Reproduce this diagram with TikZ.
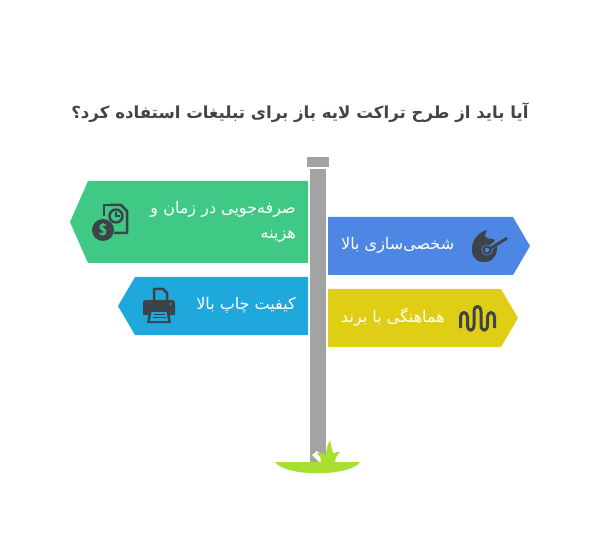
\documentclass[tikz,border=0pt]{standalone}
\usepackage{fontspec}
\newfontfamily\arabicfont[Script=Arabic]{DejaVu Sans}
\TeXXeTstate=1
\definecolor{signgreen}{HTML}{3FC985}
\definecolor{signcyan}{HTML}{1FA8DC}
\definecolor{signblue}{HTML}{4E86E4}
\definecolor{signyellow}{HTML}{E0CE15}
\definecolor{polegray}{HTML}{A3A3A3}
\definecolor{grassgreen}{HTML}{A8E02F}
\definecolor{icondark}{HTML}{3D4449}
\definecolor{titlegray}{HTML}{444444}
\tikzset{
  signlabel/.style={text=white,font=\arabicfont\fontsize{16}{25}\selectfont,align=right,inner sep=0pt},
  titlelabel/.style={text=titlegray,font=\arabicfont\bfseries\fontsize{16.6}{20}\selectfont,inner sep=0pt},
  iconline/.style={draw=icondark,line width=2.5pt,line join=round,fill=none}
}
\begin{document}
\begin{tikzpicture}[x=1pt,y=-1pt]
  \useasboundingbox (0,0) rectangle (600,540);

  % post and cap
  \fill[polegray] (310,169) rectangle (326,462);
  \fill[polegray] (307,157) rectangle (329,167);

  % grass
  \fill[grassgreen] (275,462) .. controls (285,477) and (350,477) .. (360,462) -- cycle;
  \fill[white] (312,455) -- (317,451) -- (324,456) -- (324,462) -- (319,462) -- cycle;
  \fill[grassgreen] (321,463) .. controls (321,458) and (320,455) .. (317,453)
    .. controls (320,452) and (323,453) .. (326,455)
    .. controls (326,449) and (328,444) .. (330,440)
    .. controls (331,445) and (332,449) .. (333,453)
    .. controls (335,452) and (338,452) .. (340,452)
    .. controls (337,455) and (335,458) .. (335,463) -- cycle;

  % signs
  \fill[signgreen] (308,181) -- (88,181) -- (70,222) -- (88,263) -- (308,263) -- cycle;
  \fill[signcyan] (308,277) -- (135,277) -- (118,306) -- (135,335) -- (308,335) -- cycle;
  \fill[signblue] (328,217) -- (513,217) -- (530,246) -- (513,275) -- (328,275) -- cycle;
  \fill[signyellow] (328,289) -- (501,289) -- (518,318) -- (501,347) -- (328,347) -- cycle;

  % texts
  \node[titlelabel] (title) at (300,113) {\beginR آیا باید از طرح تراکت لایه باز برای تبلیغات استفاده کرد؟\endR};
  \node[signlabel,anchor=east] (saving) at (296,222) {\beginR صرفه‌جویی در زمان و\endR\\\beginR هزینه\endR};
  \node[signlabel,anchor=east] (quality) at (296,305) {\beginR کیفیت چاپ بالا\endR};
  \node[signlabel,anchor=west] (custom) at (341,245) {\beginR شخصی‌سازی بالا\endR};
  \node[signlabel,anchor=west] (brand) at (341,317) {\beginR هماهنگی با برند\endR};

  % icon: document and money
  \draw[iconline] (110,205) -- (121,205) -- (127,211) -- (127,233) -- (114,233);
  \draw[iconline] (104,216) -- (104,205) -- (110,205);
  \draw[iconline] (116,216) circle[radius=6.5];
  \draw[icondark,line width=1.4pt] (116,212.5) -- (116,216) -- (119.5,216);
  \fill[icondark] (103,230) circle[radius=11];
  \node[text=signgreen,font=\sffamily\bfseries\fontsize{16}{16}\selectfont,inner sep=0pt] (dollar) at (103,230) {\$};

  % icon: printer
  \draw[iconline] (154,300) -- (154,289) -- (163,289) -- (167,293) -- (167,300);
  \fill[icondark] (146,300) -- (172,300) .. controls (174,300) and (175,301) .. (175,303)
    -- (175,315) -- (143,315) -- (143,303) .. controls (143,301) and (144,300) .. (146,300) -- cycle;
  \fill[icondark] (149,310) -- (169,310) -- (171,323) -- (147,323) -- cycle;
  \fill[signcyan] (151.5,312) -- (166.5,312) -- (168,321) -- (150,321) -- cycle;
  \fill[icondark] (154,314) rectangle (165,315.4);
  \fill[icondark] (153,317) rectangle (166,318.4);
  \fill[signcyan] (170.5,304) circle[radius=1];

  % icon: dial
  \fill[icondark] (487,230) .. controls (485,234) and (484,236) .. (487,238)
    .. controls (489,240) and (492,237) .. (494,240)
    .. controls (497,243) and (497,246) .. (497,250)
    .. controls (496,258) and (490,263) .. (483,262)
    .. controls (475,262) and (471,255) .. (472,247)
    .. controls (473,239) and (479,232) .. (487,230) -- cycle;
  \draw[signblue,line width=5pt] (499,241) -- (488,250);
  \fill[signblue] (487,250) circle[radius=5.6];
  \draw[icondark,line width=2.8pt,line cap=round] (506.5,238.5) -- (490,248.5);
  \draw[icondark,line width=2.2pt] (487,250) circle[radius=3.6];

  % icon: wave
  \draw[icondark,line width=3pt,line join=round]
    (460.5,328) -- (460.5,317) .. controls (460.5,311) and (467.5,311) .. (467.5,317)
    -- (467.5,325) .. controls (467.5,332) and (474,332) .. (474,325)
    -- (474,312) .. controls (474,304.5) and (481,304.5) .. (481,312)
    -- (481,325) .. controls (481,332) and (487.5,332) .. (487.5,325)
    -- (487.5,317) .. controls (487.5,311) and (494.5,311) .. (494.5,317) -- (494.5,328);
\end{tikzpicture}
\end{document}
